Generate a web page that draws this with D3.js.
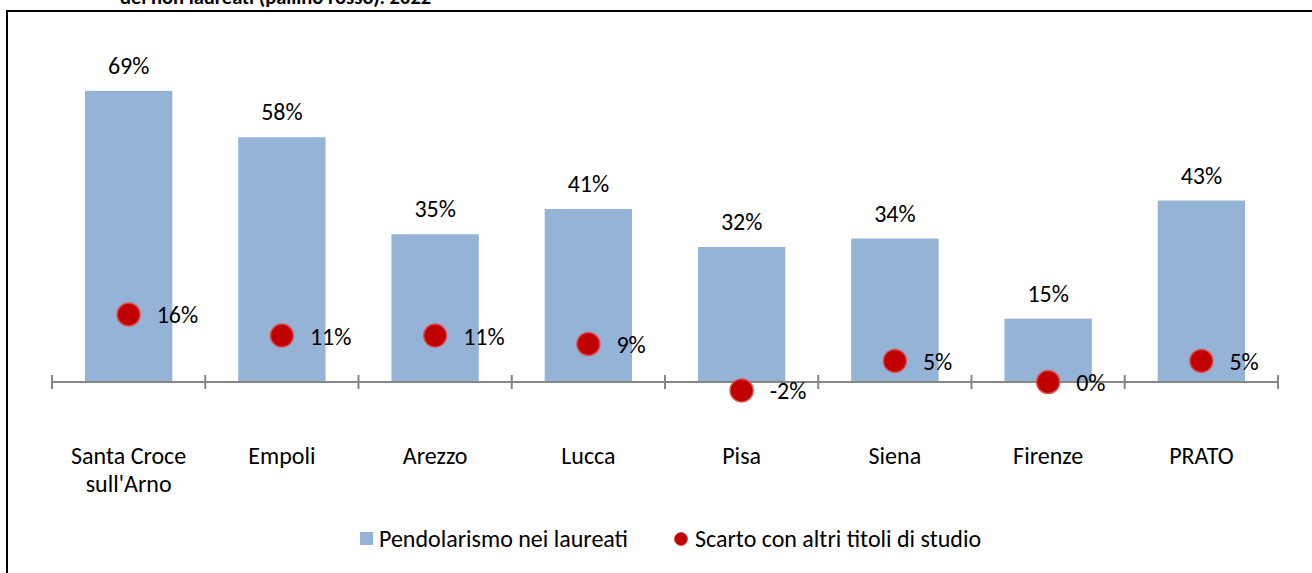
<!DOCTYPE html>
<html>
<head>
<meta charset="utf-8">
<script src="https://cdn.jsdelivr.net/npm/d3@7"></script>
<style>
    body { margin: 0; background: #fff; }
    text { font-family: Carlito, Calibri, Lato, sans-serif; fill: #000; }
</style>
</head>
<body>
<div id="chart"></div>
<script>
// Pendolarismo dei laureati e scarto con altri titoli di studio, 2022
var categories = ["Santa Croce sull'Arno", "Empoli", "Arezzo", "Lucca", "Pisa", "Siena", "Firenze", "PRATO"];
var laureati = [69, 58, 35, 41, 32, 34, 15, 43];
var scarto = [16, 11, 11, 9, -2, 5, 0, 5];
var legendLabels = ["Pendolarismo nei laureati", "Scarto con altri titoli di studio"];
var titleText = "dei non laureati (pallino rosso). 2022";

var svgWidth = 1312;
var svgHeight = 573;

var margin = { left: 52, right: 34, axisY: 382 };

var svg = d3.select("#chart")
    .append("svg")
    .attr("width", svgWidth)
    .attr("height", svgHeight);

// frame of the chart (runs off to the right and bottom)
svg.append("rect")
    .attr("x", 7)
    .attr("y", 11)
    .attr("width", svgWidth + 20)
    .attr("height", svgHeight + 20)
    .attr("fill", "none")
    .attr("stroke", "#000")
    .attr("stroke-width", 2);

// title, cut at the top like in the source page
svg.append("text")
    .attr("x", 120)
    .attr("y", 3.5)
    .attr("font-size", 20.5)
    .attr("font-weight", "bold")
    .text(titleText);

var xScale = d3.scaleBand()
    .domain(categories)
    .range([margin.left, svgWidth - margin.right])
    .padding(0);

var yScale = d3.scaleLinear()
    .domain([0, 100])
    .range([margin.axisY, margin.axisY - 422]);

var barWidth = xScale.bandwidth() * 0.57;
var data = categories.map(function(c, i) {
    return { cat: c, bar: laureati[i], dot: scarto[i] };
});

// bars
svg.selectAll("rect.bar")
    .data(data)
    .enter()
    .append("rect")
    .attr("class", "bar")
    .attr("x", d => xScale(d.cat) + (xScale.bandwidth() - barWidth) / 2)
    .attr("y", d => yScale(d.bar))
    .attr("width", barWidth)
    .attr("height", d => yScale(0) - yScale(d.bar))
    .attr("fill", "#95B3D7");

// bar labels
svg.selectAll("text.barLabel")
    .data(data)
    .enter()
    .append("text")
    .attr("class", "barLabel")
    .attr("x", d => xScale(d.cat) + xScale.bandwidth() / 2)
    .attr("y", d => yScale(d.bar) - 17)
    .attr("text-anchor", "middle")
    .attr("font-size", 24)
    .text(d => d.bar + "%");

// x axis with cross ticks at the category edges
var axisG = svg.append("g")
    .attr("transform", `translate(0, ${margin.axisY})`);

axisG.append("line")
    .attr("x1", margin.left)
    .attr("x2", svgWidth - margin.right)
    .attr("stroke", "#868686")
    .attr("stroke-width", 2);

var edges = categories.map(c => xScale(c)).concat([xScale.range()[1]]);
axisG.selectAll("line.tick")
    .data(edges)
    .enter()
    .append("line")
    .attr("class", "tick")
    .attr("x1", d => d)
    .attr("x2", d => d)
    .attr("y1", -7)
    .attr("y2", 7)
    .attr("stroke", "#868686")
    .attr("stroke-width", 2);

// category labels, wrapped to fit the band
var catLabels = svg.selectAll("text.cat")
    .data(data)
    .enter()
    .append("text")
    .attr("class", "cat")
    .attr("text-anchor", "middle")
    .attr("font-size", 24)
    .attr("y", 464);

catLabels.each(function(d) {
    var el = d3.select(this);
    var cx = xScale(d.cat) + xScale.bandwidth() / 2;
    var words = d.cat.split(" ");
    var lines = [];
    var line = [];
    var tspan = el.append("tspan").attr("x", cx);
    words.forEach(function(w) {
        line.push(w);
        tspan.text(line.join(" "));
        if (tspan.node().getComputedTextLength() > xScale.bandwidth() - 10 && line.length > 1) {
            line.pop();
            lines.push(line.join(" "));
            line = [w];
        }
    });
    lines.push(line.join(" "));
    tspan.remove();
    lines.forEach(function(l, i) {
        el.append("tspan")
            .attr("x", cx)
            .attr("dy", i === 0 ? 0 : 28)
            .text(l);
    });
});

// red dots
svg.selectAll("circle.dot")
    .data(data)
    .enter()
    .append("circle")
    .attr("class", "dot")
    .attr("cx", d => xScale(d.cat) + xScale.bandwidth() / 2)
    .attr("cy", d => yScale(d.dot))
    .attr("r", 11.5)
    .attr("fill", "#C00000")
    .attr("stroke", "#D9534F")
    .attr("stroke-width", 1.5);

svg.selectAll("text.dotLabel")
    .data(data)
    .enter()
    .append("text")
    .attr("class", "dotLabel")
    .attr("x", d => xScale(d.cat) + xScale.bandwidth() / 2 + 28)
    .attr("y", d => yScale(d.dot) + 9)
    .attr("font-size", 24)
    .text(d => d.dot + "%");

// legend
var legend = svg.append("g");
legend.append("rect")
    .attr("x", 360)
    .attr("y", 532)
    .attr("width", 13)
    .attr("height", 13)
    .attr("fill", "#95B3D7");
legend.append("text")
    .attr("x", 379)
    .attr("y", 547)
    .attr("font-size", 24)
    .text(legendLabels[0]);
legend.append("circle")
    .attr("cx", 681)
    .attr("cy", 539)
    .attr("r", 6.5)
    .attr("fill", "#C00000")
    .attr("stroke", "#D9534F")
    .attr("stroke-width", 1);
legend.append("text")
    .attr("x", 695)
    .attr("y", 547)
    .attr("font-size", 24)
    .text(legendLabels[1]);
</script>
</body>
</html>
